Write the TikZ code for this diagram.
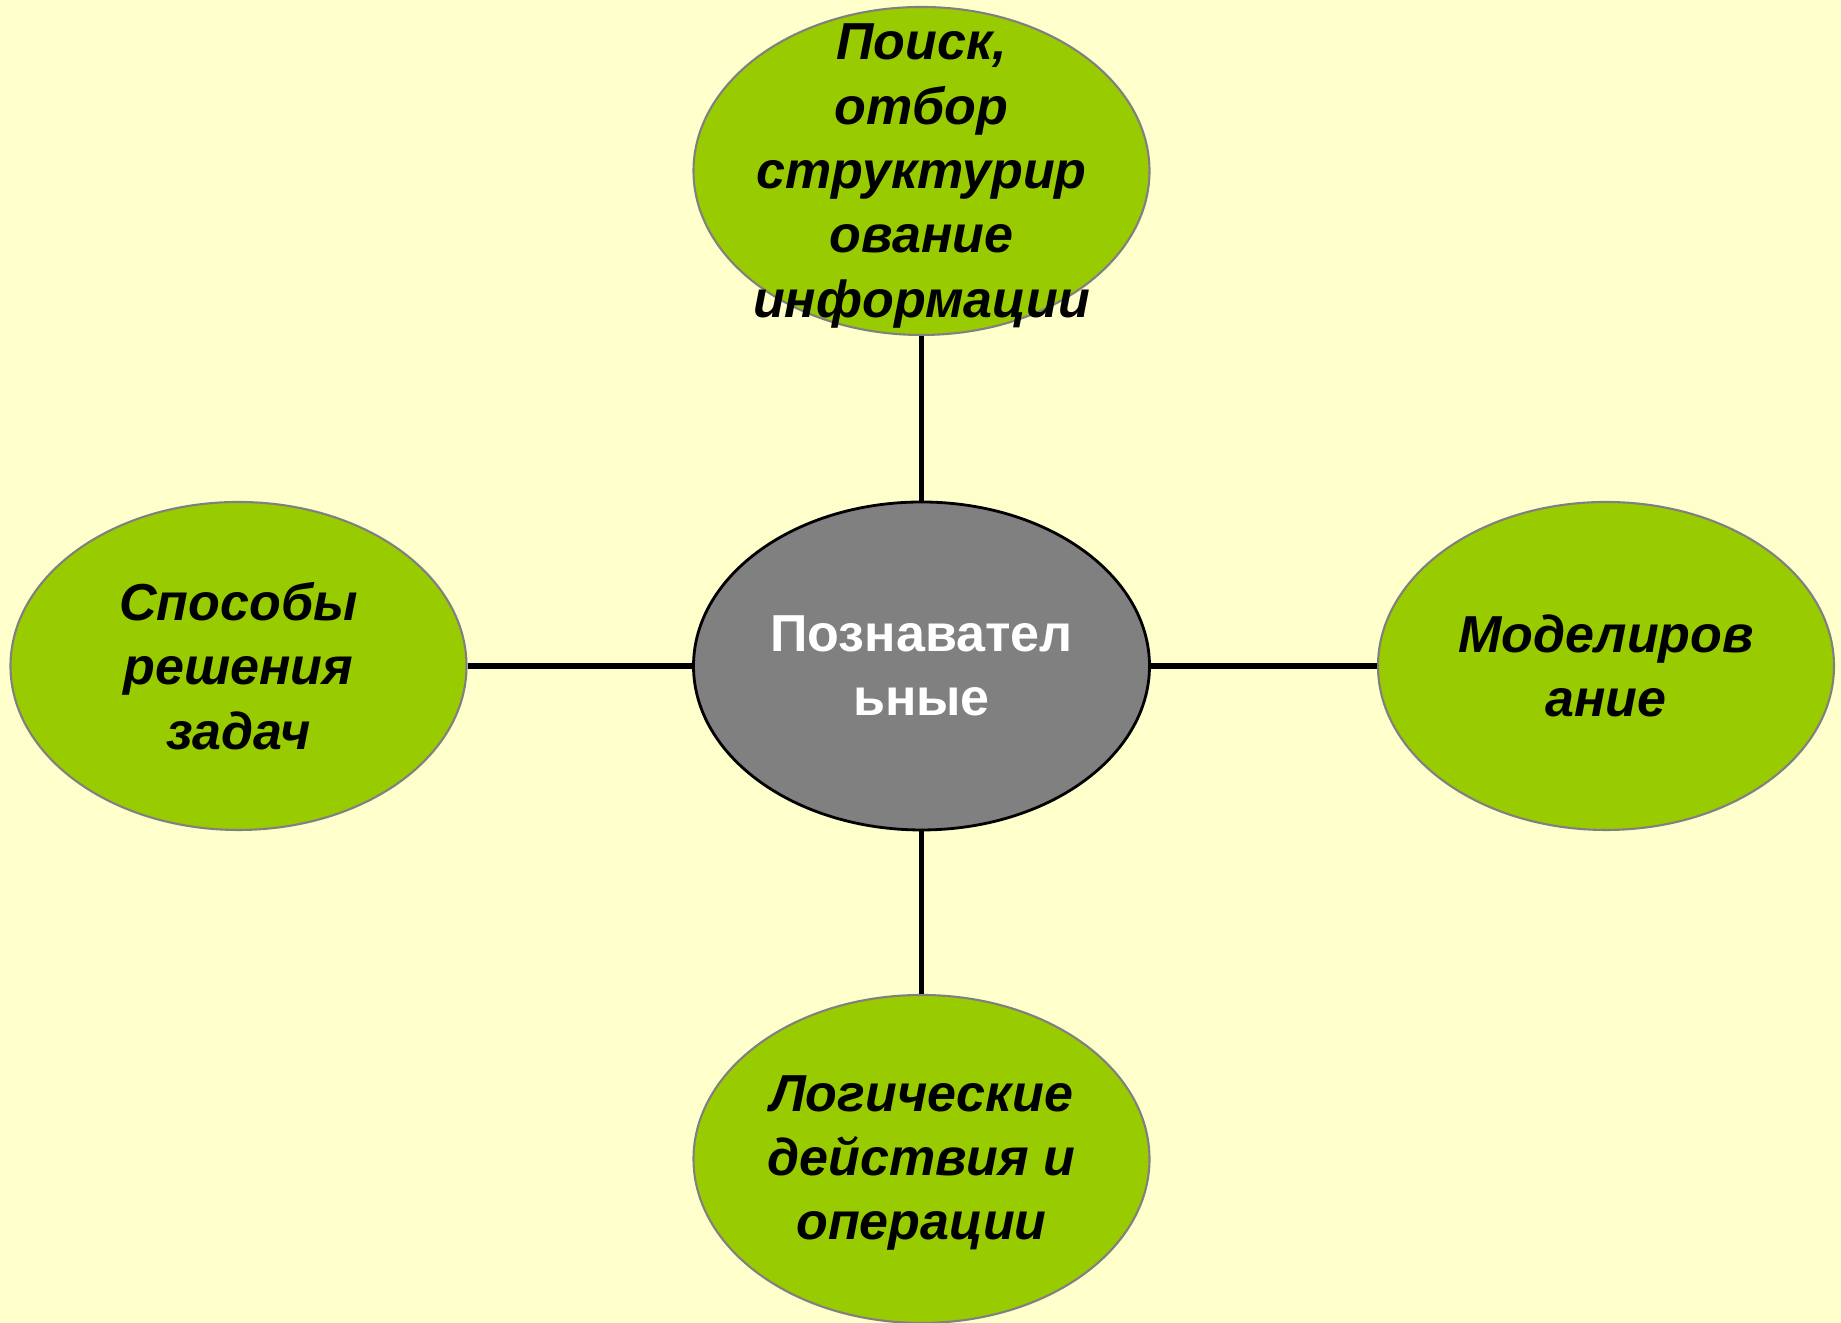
\documentclass[tikz,border=0pt]{standalone}
\usepackage{fontspec}
\setmainfont{Liberation Sans}
\usetikzlibrary{shapes.geometric}

\definecolor{paper}{HTML}{FFFFCC}
\definecolor{leaf}{HTML}{99CC00}
\definecolor{core}{HTML}{808080}

\tikzset{
	bubble/.style={ellipse, fill=leaf, draw=core, line width=0.6pt,
		minimum width=4.56cm, minimum height=3.28cm, inner sep=0pt},
	hub/.style={bubble, fill=core, draw=black, line width=0.8pt},
	lbl/.style={align=center, font=\fontsize{14.8}{18.3}\selectfont\bfseries\itshape},
	hublbl/.style={align=center, text=white, font=\fontsize{14.8}{18.3}\selectfont\bfseries},
	spoke/.style={draw=black, line width=1.6pt}
}

\begin{document}
\begin{tikzpicture}
\useasboundingbox (0,0) rectangle (18.41,13.23);
\fill[paper] (0,0) rectangle (18.41,13.23);

% hub and the four leaves
\node[hub] (hub) at (9.215,6.57) {};
\node[bubble] (poisk) at (9.215,11.52) {};
\node[bubble] (sposob) at (2.385,6.57) {};
\node[bubble] (model) at (16.06,6.57) {};
\node[bubble] (logic) at (9.215,1.64) {};

\draw[spoke] (hub) -- (poisk);
\draw[spoke] (hub) -- (sposob);
\draw[spoke] (hub) -- (model);
\draw[spoke] (hub) -- (logic);

% texts
\node[hublbl] (hubt) at (hub) {Познавател\\ьные};
\node[lbl] (poiskt) at ([yshift=-0.05cm]poisk) {Поиск,\\отбор\\структурир\\ование\\информации};
\node[lbl] (sposobt) at (sposob) {Способы\\решения\\задач};
\node[lbl] (modelt) at (model) {Моделиров\\ание};
\node[lbl] (logict) at ([yshift=-0.04cm]logic) {Логические\\действия и\\операции};
\end{tikzpicture}
\end{document}
